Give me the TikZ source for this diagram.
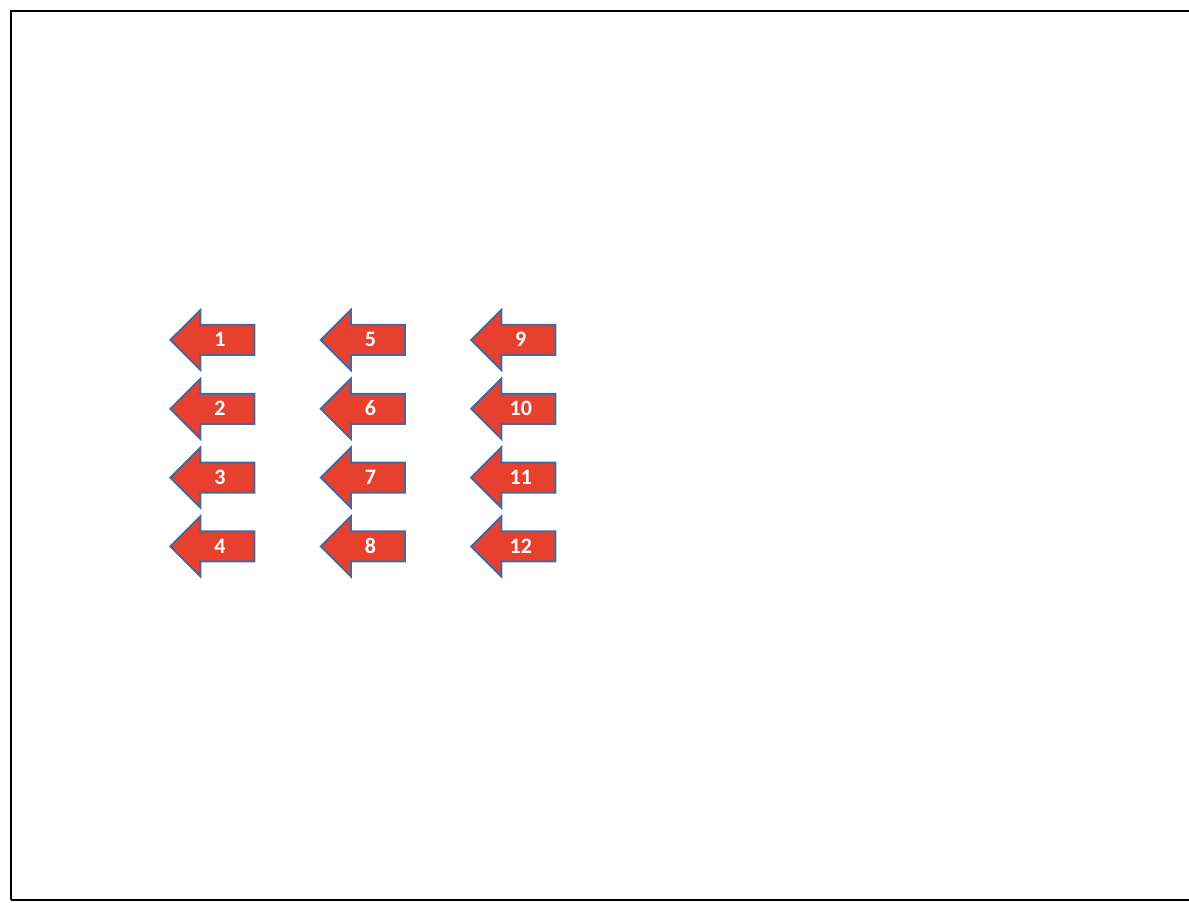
\documentclass[tikz,border=0pt]{standalone}
\usepackage{fontspec}
\setmainfont{Carlito}
\usepackage{xcolor}
\usepackage{tikz}
\usetikzlibrary{positioning,shapes.arrows}
\definecolor{arrowred}{HTML}{E8402F}
\definecolor{arrowblue}{HTML}{48689A}

\begin{document}
\begin{tikzpicture}[x=0.5pt,y=0.5pt,
  larrow/.style={single arrow,shape border rotate=180,draw=arrowblue,line width=1pt,fill=arrowred,
    text=white,font=\fontsize{11}{12}\selectfont\bfseries,minimum height=42pt,
    single arrow head extend=7.5pt,text height=7pt,text depth=0pt,inner ysep=3.5pt,inner xsep=2pt}]
\clip (0,0) rectangle (1189,-903);
\draw[line width=1.2pt] (11,-900) -- (11,-11) -- (1200,-11);
\draw[line width=1.2pt] (11,-900) -- (1200,-900);
% first column
\node[larrow,anchor=tip] (a1) at (169,-340) {1};
\node[larrow,below=18.4pt of a1] (a2) {2};
\node[larrow,below=18.4pt of a2] (a3) {3};
\node[larrow,below=18.4pt of a3] (a4) {4};
% second column
\node[larrow,right=32pt of a1] (a5) {5};
\node[larrow,below=18.4pt of a5] (a6) {6};
\node[larrow,below=18.4pt of a6] (a7) {7};
\node[larrow,below=18.4pt of a7] (a8) {8};
% third column
\node[larrow,right=32pt of a5] (a9) {9};
\node[larrow,below=18.4pt of a9] (a10) {10};
\node[larrow,below=18.4pt of a10] (a11) {11};
\node[larrow,below=18.4pt of a11] (a12) {12};
\end{tikzpicture}
\end{document}
